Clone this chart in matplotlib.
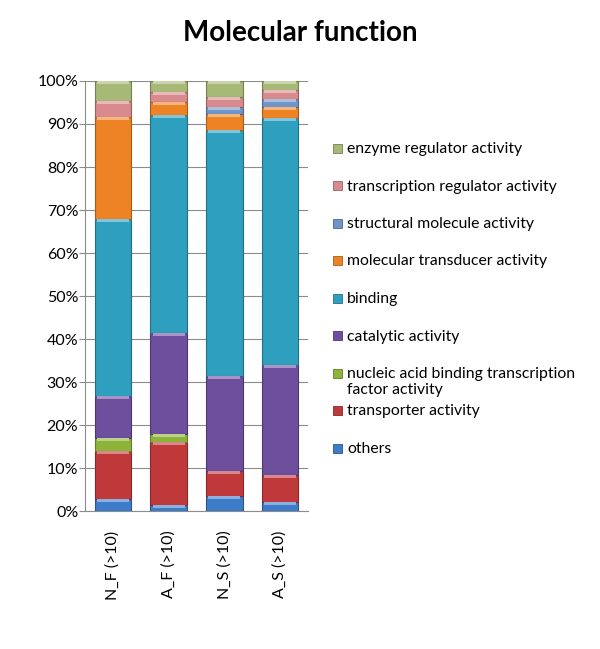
import numpy as np
import matplotlib.pyplot as plt
from matplotlib.patches import Rectangle
from matplotlib.colors import to_rgb

plt.rcParams['font.family'] = ['Lato', 'DejaVu Sans']

# 試料カテゴリ
samples = ["N_F (>10)", "A_F (>10)", "N_S (>10)", "A_S (>10)"]

# 各機能カテゴリの割合 (%) - 下から積み上げ順
others = [2.7, 1.3, 3.5, 2.1]
transporter = [11.3, 14.7, 5.8, 6.2]
nucleic_tf = [3.0, 2.0, 0.0, 0.0]
catalytic = [9.7, 23.5, 22.2, 25.7]
binding = [41.3, 50.5, 57.2, 57.5]
mol_transducer = [23.6, 3.2, 3.6, 2.5]
structural = [0.0, 0.0, 1.7, 1.8]
transcription_reg = [3.7, 2.3, 2.3, 2.0]
enzyme_reg = [4.7, 2.5, 3.7, 2.2]

series = [
    ("others", others, "#3d7cc9"),
    ("transporter activity", transporter, "#c0393a"),
    ("nucleic acid binding transcription\nfactor activity", nucleic_tf, "#8db33a"),
    ("catalytic activity", catalytic, "#6e4f9e"),
    ("binding", binding, "#2f9fc0"),
    ("molecular transducer activity", mol_transducer, "#ee8326"),
    ("structural molecule activity", structural, "#6f95c8"),
    ("transcription regulator activity", transcription_reg, "#d98a8c"),
    ("enzyme regulator activity", enzyme_reg, "#a7b877"),
]

def shade(c, f):
    r = np.array(to_rgb(c))
    return tuple(np.clip(r * f, 0, 1))

fig = plt.figure(figsize=(6.0, 6.49), dpi=100)
ax = fig.add_axes([0.142, 0.2126, 0.371, 0.6626])

x = np.arange(len(samples))
bottom = np.zeros(len(samples))
for name, vals, col in series:
    vals = np.array(vals, dtype=float)
    ax.bar(x, vals, bottom=bottom, width=0.66, color=col,
           edgecolor=shade(col, 0.7), linewidth=0.8, zorder=3)
    # 上端のハイライト（立体感）
    hi = np.minimum(vals, 0.7)
    ax.bar(x, hi, bottom=bottom + vals - hi, width=0.58,
           color=tuple(np.clip(np.array(to_rgb(col)) * 0.6 + 0.4, 0, 1)),
           linewidth=0, zorder=4)
    bottom += vals

ax.set_xlim(-0.5, len(samples) - 0.5)
ax.set_ylim(0, 100)
ax.set_yticks(np.arange(0, 101, 10))
ax.set_yticklabels([f"{v}%" for v in range(0, 101, 10)], fontsize=11.5)
ax.set_xticks(x)
ax.set_xticklabels(samples, rotation=90, fontsize=11.5)
ax.yaxis.grid(True, color="#8c8c8c", linewidth=0.8, zorder=0)
ax.set_axisbelow(True)
for s in ["top", "right"]:
    ax.spines[s].set_visible(False)
ax.spines["left"].set_color("#8c8c8c")
ax.spines["bottom"].set_color("#8c8c8c")
ax.tick_params(axis="y", length=4, color="#8c8c8c", pad=1)
ax.tick_params(axis="x", length=0, pad=14)

fig.text(0.5, 0.949, "Molecular function", ha="center", va="center",
         fontsize=20, fontweight="bold")

# 凡例（上から逆順）
W, H = 600, 649
y0, dy = 148, 37.5
for i, (name, vals, col) in enumerate(reversed(series)):
    yc = y0 + i * dy
    fig.patches.append(Rectangle(((333) / W, 1 - (yc + 4.5) / H), 9 / W, 9 / H,
                                 transform=fig.transFigure, facecolor=col,
                                 edgecolor=shade(col, 0.7), linewidth=0.6))
    fig.text(347 / W, 1 - (yc - 6) / H, name, ha="left", va="top",
             fontsize=11.3, linespacing=1.15)

fig.savefig("out.png", dpi=100)
